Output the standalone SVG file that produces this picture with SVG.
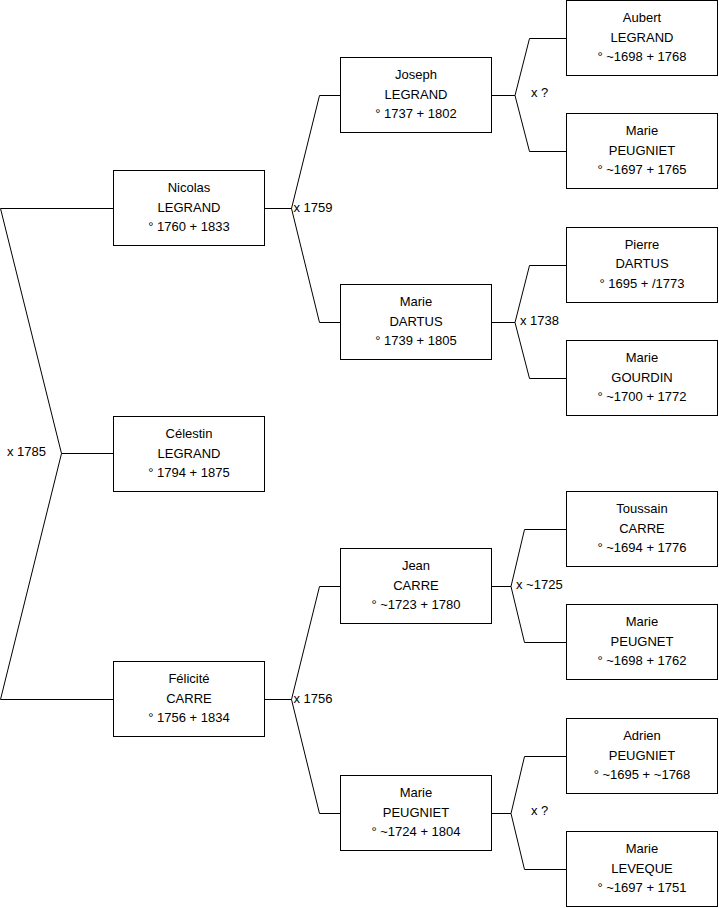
<svg xmlns="http://www.w3.org/2000/svg" width="719" height="908" viewBox="0 0 719 908">
<style>
rect.box{fill:#fff;stroke:#000;stroke-width:1}
text{font-family:"Liberation Sans",Arial,sans-serif;font-size:13px;fill:#000}
text.c{text-anchor:middle}
.conn path{fill:none;stroke:#000;stroke-width:1}
</style>
<rect width="719" height="908" fill="#fff"/>
<g class="conn" id="connectors">
<path d="M113.5 208.5 H0.5 L61.5 453.5 L0.5 699.5 H113.5 M61.5 453.5 H113.5"/>
<path d="M264.5 208.5 H291.5 L319.5 95.5 H340.5 M291.5 208.5 L319.5 322.5 H340.5"/>
<path d="M264.5 699.5 H291.5 L319.5 586.5 H340.5 M291.5 699.5 L319.5 813.5 H340.5"/>
<path d="M491.5 95.5 H515 L529.5 38.5 H566.5 M515 95.5 L529.5 151.5 H566.5"/>
<path d="M491.5 322.5 H515 L529.5 265.5 H566.5 M515 322.5 L529.5 378.5 H566.5"/>
<path d="M491.5 586.5 H511 L524.5 529.5 H566.5 M511 586.5 L524.5 642.5 H566.5"/>
<path d="M491.5 813.5 H511 L524.5 756.5 H566.5 M511 813.5 L524.5 869.5 H566.5"/>
<text x="7" y="456">x 1785</text>
<text x="293.5" y="212">x 1759</text>
<text x="293.5" y="702.5">x 1756</text>
<text x="520" y="325">x 1738</text>
<text x="516" y="589">x ~1725</text>
<text x="531" y="97">x ?</text>
<text x="531" y="815">x ?</text>
</g>
<g id="nicolas"><rect class="box" x="113.5" y="170.5" width="151" height="75"/><text class="c" x="189" y="192">Nicolas</text><text class="c" x="189" y="211.5">LEGRAND</text><text class="c" x="189" y="231">° 1760 + 1833</text></g>
<g id="celestin"><rect class="box" x="113.5" y="416.5" width="151" height="75"/><text class="c" x="189" y="438">Célestin</text><text class="c" x="189" y="457.5">LEGRAND</text><text class="c" x="189" y="477">° 1794 + 1875</text></g>
<g id="felicite"><rect class="box" x="113.5" y="661.5" width="151" height="75"/><text class="c" x="189" y="683">Félicité</text><text class="c" x="189" y="702.5">CARRE</text><text class="c" x="189" y="722">° 1756 + 1834</text></g>
<g id="joseph"><rect class="box" x="340.5" y="57.5" width="151" height="75"/><text class="c" x="416" y="79">Joseph</text><text class="c" x="416" y="98.5">LEGRAND</text><text class="c" x="416" y="118">° 1737 + 1802</text></g>
<g id="marie-dartus"><rect class="box" x="340.5" y="284.5" width="151" height="75"/><text class="c" x="416" y="306">Marie</text><text class="c" x="416" y="325.5">DARTUS</text><text class="c" x="416" y="345">° 1739 + 1805</text></g>
<g id="jean"><rect class="box" x="340.5" y="548.5" width="151" height="75"/><text class="c" x="416" y="570">Jean</text><text class="c" x="416" y="589.5">CARRE</text><text class="c" x="416" y="609">° ~1723 + 1780</text></g>
<g id="marie-peugniet-2"><rect class="box" x="340.5" y="775.5" width="151" height="75"/><text class="c" x="416" y="797">Marie</text><text class="c" x="416" y="816.5">PEUGNIET</text><text class="c" x="416" y="836">° ~1724 + 1804</text></g>
<g id="aubert"><rect class="box" x="566.5" y="0.5" width="151" height="75"/><text class="c" x="642" y="22">Aubert</text><text class="c" x="642" y="41.5">LEGRAND</text><text class="c" x="642" y="61">° ~1698 + 1768</text></g>
<g id="marie-peugniet-1"><rect class="box" x="566.5" y="113.5" width="151" height="75"/><text class="c" x="642" y="135">Marie</text><text class="c" x="642" y="154.5">PEUGNIET</text><text class="c" x="642" y="174">° ~1697 + 1765</text></g>
<g id="pierre"><rect class="box" x="566.5" y="227.5" width="151" height="75"/><text class="c" x="642" y="248.5">Pierre</text><text class="c" x="642" y="268">DARTUS</text><text class="c" x="642" y="287.5">° 1695 + /1773</text></g>
<g id="marie-gourdin"><rect class="box" x="566.5" y="340.5" width="151" height="75"/><text class="c" x="642" y="362">Marie</text><text class="c" x="642" y="381.5">GOURDIN</text><text class="c" x="642" y="401">° ~1700 + 1772</text></g>
<g id="toussain"><rect class="box" x="566.5" y="491.5" width="151" height="75"/><text class="c" x="642" y="513">Toussain</text><text class="c" x="642" y="532.5">CARRE</text><text class="c" x="642" y="552">° ~1694 + 1776</text></g>
<g id="marie-peugnet"><rect class="box" x="566.5" y="604.5" width="151" height="75"/><text class="c" x="642" y="626">Marie</text><text class="c" x="642" y="645.5">PEUGNET</text><text class="c" x="642" y="665">° ~1698 + 1762</text></g>
<g id="adrien"><rect class="box" x="566.5" y="718.5" width="151" height="75"/><text class="c" x="642" y="740">Adrien</text><text class="c" x="642" y="759.5">PEUGNIET</text><text class="c" x="642" y="779">° ~1695 + ~1768</text></g>
<g id="marie-leveque"><rect class="box" x="566.5" y="831.5" width="151" height="75"/><text class="c" x="642" y="853">Marie</text><text class="c" x="642" y="872.5">LEVEQUE</text><text class="c" x="642" y="892">° ~1697 + 1751</text></g>
</svg>
